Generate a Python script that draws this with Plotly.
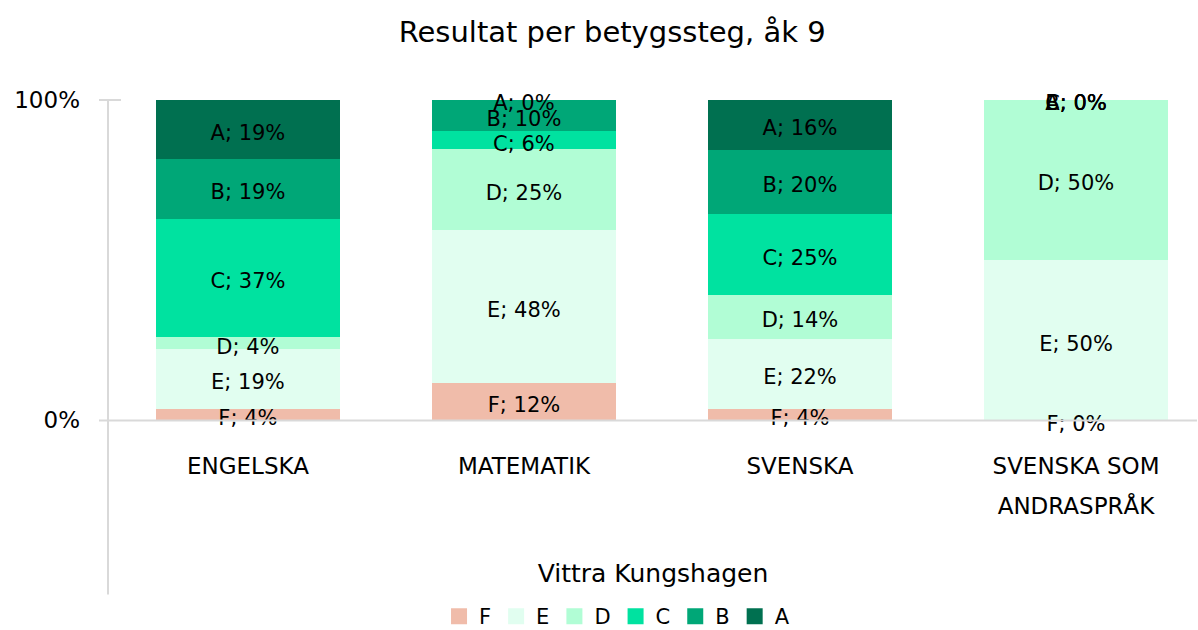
import plotly.graph_objects as go

categories = ["ENGELSKA", "MATEMATIK", "SVENSKA", "SVENSKA SOM ANDRASPRÅK"]
tick_lines = [["ENGELSKA"], ["MATEMATIK"], ["SVENSKA"], ["SVENSKA SOM", "ANDRASPRÅK"]]
grades = ["F", "E", "D", "C", "B", "A"]
F = [3.7, 11.7, 3.7, 0.0]
E = [18.52, 47.7, 21.6, 50.0]
D = [3.7, 25.2, 13.8, 50.0]
C = [37.04, 5.6, 25.3, 0.0]
B = [18.52, 9.8, 20.0, 0.0]
A = [18.52, 0.0, 15.6, 0.0]
colors = ["#F0BCAA", "#E1FEF0", "#B1FDD5", "#00E2A0", "#00A777", "#007050"]

series = [F, E, D, C, B, A]
FONT = "DejaVu Sans"
W, H = 1198, 630

TOP_PX, ZERO_PX, L = 100, 420, 108
PX_PER_PCT = (ZERO_PX - TOP_PX) / 100
Y_MIN = -3
BOTTOM_PX = ZERO_PX - Y_MIN * PX_PER_PCT
T = TOP_PX
B_ = H - BOTTOM_PX
plot_w = W - L
plot_h = BOTTOM_PX - TOP_PX

TICK_SIZE = 23
tick_text = ["<br>".join(f"<span style='font-size:{TICK_SIZE}px'>{s}</span>" for s in lines)
             for lines in tick_lines]

LABEL_NUDGE = 5 / PX_PER_PCT

fig = go.Figure()
xs = list(range(len(categories)))
for name, vals, col in zip(grades, series, colors):
    fig.add_trace(go.Bar(
        x=xs, y=vals, name=name, marker=dict(color=col, line=dict(width=0)),
        width=0.667, hoverinfo="skip", showlegend=False,
    ))
    fig.add_trace(go.Scatter(
        x=[None], y=[None], name=name, mode="markers",
        marker=dict(symbol="square", size=16, color=col), showlegend=True,
    ))

cum = [0.0] * len(categories)
lx, ly, lt = [], [], []
for name, vals in zip(grades, series):
    for i, v in enumerate(vals):
        lx.append(i)
        ly.append(cum[i] + v / 2 - LABEL_NUDGE)
        lt.append(f"{name}; {round(v):d}%")
        cum[i] += v
fig.add_trace(go.Scatter(
    x=lx, y=ly, text=lt, mode="text", textposition="middle center",
    textfont=dict(family=FONT, size=21, color="#000000"),
    showlegend=False, hoverinfo="skip", cliponaxis=False,
))

def px_to_paper_x(px):
    return (px - L) / plot_w

def px_to_paper_y(py):
    return (BOTTOM_PX - py) / plot_h

line_col = "#D9D9D9"
fig.add_shape(type="line", xref="paper", yref="paper",
              x0=0, x1=0, y0=1, y1=px_to_paper_y(594),
              line=dict(color=line_col, width=2))
fig.add_shape(type="line", xref="paper", yref="paper",
              x0=px_to_paper_x(99), x1=px_to_paper_x(1197),
              y0=px_to_paper_y(ZERO_PX), y1=px_to_paper_y(ZERO_PX),
              line=dict(color=line_col, width=2))
fig.add_shape(type="line", xref="paper", yref="paper",
              x0=px_to_paper_x(99), x1=px_to_paper_x(121), y0=1, y1=1,
              line=dict(color=line_col, width=2))

fig.update_layout(
    width=W, height=H,
    margin=dict(l=L, r=0, t=T, b=B_, autoexpand=False),
    paper_bgcolor="white", plot_bgcolor="white",
    barmode="stack",
    font=dict(family=FONT, color="#000000"),
    title=dict(text="Resultat per betygssteg, åk 9", x=0.511, xanchor="center",
               y=1 - 32 / H, yanchor="middle",
               font=dict(family=FONT, size=29, color="#000000")),
    showlegend=True,
    legend=dict(orientation="h", x=0.467, xanchor="center", y=px_to_paper_y(616),
                yanchor="middle", font=dict(family=FONT, size=21, color="#000000"),
                traceorder="normal", itemwidth=30),
    xaxis=dict(
        range=[-0.507, 3.442], tickmode="array", tickvals=xs, ticktext=tick_text,
        tickfont=dict(family=FONT, size=31, color="#000000"),
        showgrid=False, zeroline=False, showline=False, ticks="",
        ticklabelstandoff=12,
        title=dict(text="Vittra Kungshagen", font=dict(family=FONT, size=25, color="#000000"),
                   standoff=46),
        fixedrange=True,
    ),
    yaxis=dict(
        range=[Y_MIN, 100], tickmode="array", tickvals=[0, 100], ticktext=["0%", "100%"],
        tickfont=dict(family=FONT, size=23, color="#000000"),
        showgrid=False, zeroline=False, showline=False, ticks="",
        ticklabelstandoff=27,
        fixedrange=True,
    ),
)

fig.write_html("out.html", config={"displayModeBar": False},
               post_script="document.body.style.margin='0px';")
